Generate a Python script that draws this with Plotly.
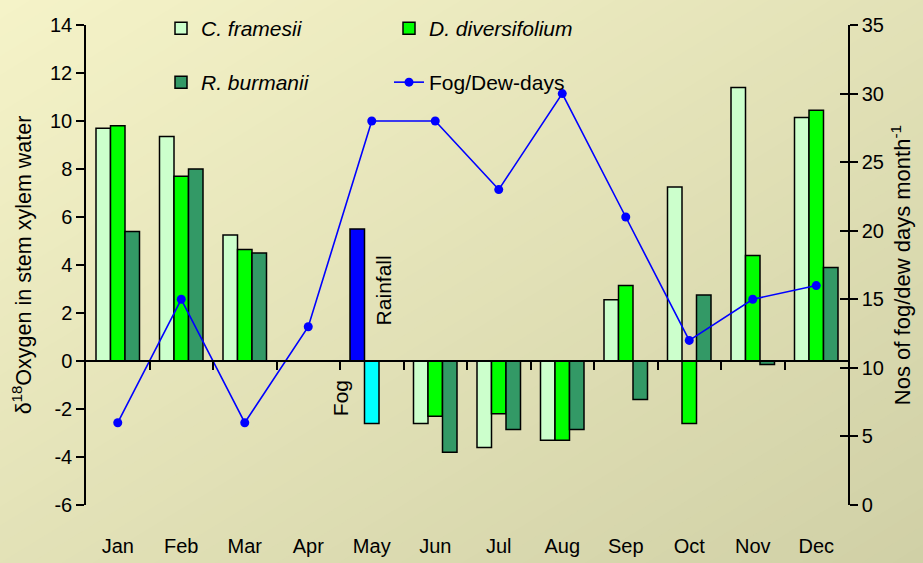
import plotly.graph_objects as go

# ---------------- data ----------------
months = ["Jan", "Feb", "Mar", "Apr", "May", "Jun", "Jul", "Aug", "Sep", "Oct", "Nov", "Dec"]
c_framesii = [9.7, 9.35, 5.25, None, None, -2.6, -3.6, -3.3, 2.55, 7.25, 11.4, 10.15]
d_diversifolium = [9.8, 7.7, 4.65, None, None, -2.3, -2.2, -3.3, 3.15, -2.6, 4.4, 10.45]
r_burmanii = [5.4, 8.0, 4.5, None, None, -3.8, -2.85, -2.85, -1.6, 2.75, -0.15, 3.9]
rainfall_month = ["May"]
rainfall_value = [5.5]
fog_month = ["May"]
fog_value = [-2.6]
fog_dew_days = [6, 15, 6, 13, 28, 28, 23, 30, 21, 12, 15, 16]
left_ticks = [-6, -4, -2, 0, 2, 4, 6, 8, 10, 12, 14]
left_tick_labels = ["-6", "-4", "-2", "0", "2", "4", "6", "8", "10", "12", "14"]
right_ticks = [0, 5, 10, 15, 20, 25, 30, 35]
right_tick_labels = ["0", "5", "10", "15", "20", "25", "30", "35"]

# ---------------- layout constants ----------------
W, H = 923, 563
ML, MR, MT, MB = 86, 75, 25, 58
PW, PH = W - ML - MR, H - MT - MB
FONT = "Liberation Sans, Arial, sans-serif"
BARGAP = 0.315
BW = (1 - BARGAP) / 3

fig = go.Figure()

outline = dict(color="black", width=1.5)
fig.add_trace(go.Bar(x=months, y=c_framesii, name="<i>C. framesii</i>",
                     marker=dict(color="#CCFFCC", line=outline), legend="legend"))
fig.add_trace(go.Bar(x=months, y=d_diversifolium, name="<i>D. diversifolium</i>",
                     marker=dict(color="#00FF00", line=outline), legend="legend"))
fig.add_trace(go.Bar(x=months, y=r_burmanii, name="<i>R. burmanii</i>",
                     marker=dict(color="#339966", line=outline), legend="legend2"))
fig.add_trace(go.Bar(x=rainfall_month, y=rainfall_value, name="Rainfall", showlegend=False,
                     offset=-(1 - BARGAP) / 2, width=BW,
                     marker=dict(color="#0000FF", line=outline)))
fig.add_trace(go.Bar(x=fog_month, y=fog_value, name="Fog", showlegend=False,
                     offset=-(1 - BARGAP) / 2 + BW, width=BW,
                     marker=dict(color="#00FFFF", line=outline)))
fig.add_trace(go.Scatter(x=months, y=fog_dew_days, name="Fog/Dew-days", yaxis="y2",
                         mode="lines+markers", line=dict(color="#0000FF", width=1.6),
                         marker=dict(color="#0000FF", size=9), legend="legend2"))
# helper traces for the zero-line axis and the crossing right ticks
fig.add_trace(go.Scatter(x=[0], y=[0], xaxis="x2", yaxis="y", mode="markers",
                         marker=dict(opacity=0), showlegend=False, hoverinfo="skip"))
fig.add_trace(go.Scatter(x=[0], y=[0], yaxis="y3", mode="markers",
                         marker=dict(opacity=0), showlegend=False, hoverinfo="skip"))

# ---------------- background gradient ----------------
def lerp(c0, c1, t):
    return "rgb(%d,%d,%d)" % tuple(round(a + (b - a) * t) for a, b in zip(c0, c1))

TL = (245, 243, 200)
BR = (208, 208, 166)
N = 60
shapes = []
for i in range(N):
    s0 = 2 * i / N
    s1 = 2 * (i + 1) / N + 0.01
    pts = [(s0, 1), (s1, 1), (s1 - 1, 0), (s0 - 1, 0)]
    conv = [((fx * W - ML) / PW, (fy * H - MB) / PH) for fx, fy in pts]
    path = "M" + " L".join("%.4f,%.4f" % p for p in conv) + " Z"
    shapes.append(dict(type="path", path=path, xref="paper", yref="paper", layer="below",
                       fillcolor=lerp(TL, BR, (i + 0.5) / N), line=dict(width=0)))

fig.update_layout(
    width=W, height=H,
    margin=dict(l=ML, r=MR, t=MT, b=MB, autoexpand=False),
    paper_bgcolor="rgb(228,226,184)",
    plot_bgcolor="rgba(0,0,0,0)",
    font=dict(family=FONT, size=20, color="black"),
    barmode="group", bargap=BARGAP, bargroupgap=0,
    shapes=shapes,
    xaxis=dict(type="category", categoryorder="array", categoryarray=months,
               range=[-0.5, 11.5], showline=False, ticks="", showgrid=False,
               zeroline=False, ticklabelstandoff=27, tickfont=dict(size=20),
               automargin=False),
    xaxis2=dict(overlaying="x", anchor="free", position=0.3, range=[-0.5, 11.5],
                tickmode="array", tickvals=[k + 0.5 for k in range(11)],
                showticklabels=False, ticks="outside", ticklen=8, tickwidth=1.5,
                tickcolor="black", showline=True, linecolor="black", linewidth=2.2,
                showgrid=False, zeroline=False, automargin=False),
    yaxis=dict(range=[-6, 14], tickmode="array", tickvals=left_ticks,
               ticktext=left_tick_labels,
               ticks="outside", ticklen=8, tickwidth=1.5, tickcolor="black",
               showline=True, linecolor="black", linewidth=1.5, showgrid=False,
               zeroline=False, tickfont=dict(size=20), automargin=False,
               title=dict(text="δ<sup>18</sup>Oxygen in stem xylem water",
                          font=dict(size=21.5), standoff=12)),
    yaxis2=dict(overlaying="y", side="right", anchor="x", range=[0, 35],
                tickmode="array", tickvals=right_ticks, ticktext=right_tick_labels,
                ticks="outside", ticklen=8, tickwidth=1.5, tickcolor="black",
                showline=True, linecolor="black", linewidth=1.5, showgrid=False,
                zeroline=False, tickfont=dict(size=20), automargin=False,
                title=dict(text="Nos of fog/dew days month<sup>-1</sup>",
                           font=dict(size=22), standoff=12)),
    yaxis3=dict(overlaying="y", side="right", anchor="x", range=[0, 35],
                tickmode="array", tickvals=right_ticks, showticklabels=False,
                ticks="inside", ticklen=8, tickwidth=1.5, tickcolor="black",
                showline=False, showgrid=False, zeroline=False, automargin=False),
    legend=dict(orientation="h", x=(161 - ML) / PW, xanchor="left",
                y=1 + (MT - 8) / PH, yanchor="top", bgcolor="rgba(0,0,0,0)",
                entrywidth=183, entrywidthmode="pixels",
                font=dict(size=21), traceorder="normal"),
    legend2=dict(orientation="h", x=(161 - ML) / PW, xanchor="left",
                 y=1 - (62 - MT) / PH, yanchor="top", bgcolor="rgba(0,0,0,0)",
                 entrywidth=183, entrywidthmode="pixels",
                 font=dict(size=21), traceorder="normal"),
    annotations=[
        dict(x=3.5, y=-1.55, xref="x", yref="y", text="Fog", textangle=-90,
             showarrow=False, font=dict(size=21)),
        dict(x=4.18, y=2.95, xref="x", yref="y", text="Rainfall", textangle=-90,
             showarrow=False, font=dict(size=21)),
    ],
)

fig.write_html("out.html", config={"displayModeBar": False},
               post_script="document.body.style.margin='0';")
